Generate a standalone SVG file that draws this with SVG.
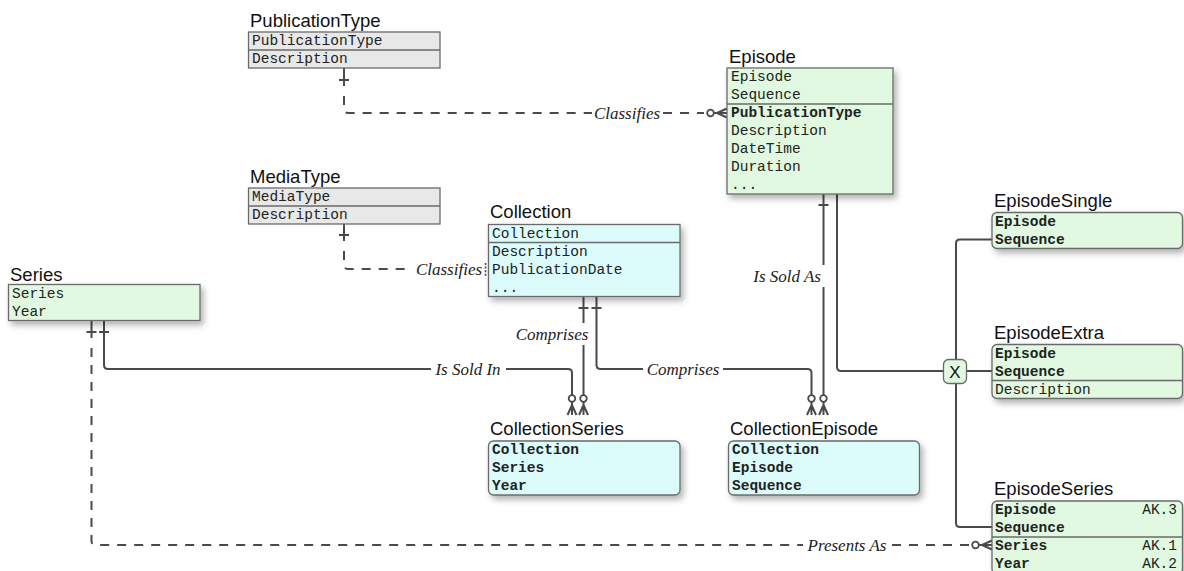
<svg xmlns="http://www.w3.org/2000/svg" width="1184" height="571" viewBox="0 0 1184 571">
<defs>
<style>
.title{font-family:"Liberation Sans",Arial,sans-serif;font-size:18.5px;fill:#111}
.f{font-family:"Liberation Mono","Courier New",monospace;font-size:14.5px;fill:#222}
.b{font-weight:bold}
.ak{text-anchor:end}
.gray{fill:#e8e8e8;stroke:#6a6a6a;stroke-width:1.3}
.green{fill:#e0f9e0;stroke:#6a6a6a;stroke-width:1.3}
.cyan{fill:#dcfcfc;stroke:#6a6a6a;stroke-width:1.3}
.div{stroke:#6a6a6a;stroke-width:1.3}
.ln{fill:none;stroke:#4a4a4a;stroke-width:2}
.dash{stroke-dasharray:9 8}
.lbl{font-family:"Liberation Serif","Times New Roman",serif;font-style:italic;font-size:17px;fill:#222}
.sh{filter:url(#shadow)}
</style>
<filter id="shadow" x="-10%" y="-20%" width="130%" height="160%">
<feDropShadow dx="3" dy="4" stdDeviation="3" flood-color="#000" flood-opacity="0.3"/>
</filter>
<g id="zm">
<circle cx="0" cy="-16.5" r="3.3" fill="#fff" stroke="#4a4a4a" stroke-width="1.8"/>
<path d="M0,-13.2 V0 M0,-10 L-4.5,0 M0,-10 L4.5,0" fill="none" stroke="#4a4a4a" stroke-width="2"/>
</g>
<path id="tick" d="M-5,0 H5" stroke="#4a4a4a" stroke-width="2"/>
</defs>

<g id="connectors">
<!-- PublicationType classifies Episode -->
<path class="ln" d="M344,68 V86"/>
<path class="ln dash" d="M344,96 V109 Q344,113 348,113 H592"/>
<path class="ln dash" d="M663,113 H704"/>
<use href="#tick" x="344" y="80"/>
<use href="#zm" transform="translate(727,113) rotate(-90)"/>
<text class="lbl" x="627" y="118.5" text-anchor="middle">Classifies</text>

<!-- MediaType classifies Collection -->
<path class="ln" d="M344,224 V241"/>
<path class="ln dash" d="M344,251 V265 Q344,269 348,269 H412"/>
<use href="#tick" x="344" y="235"/>
<path d="M485.5,263 V276" stroke="#4a4a4a" stroke-width="1.6" stroke-dasharray="2 1.6"/>
<text class="lbl" x="449" y="274.5" text-anchor="middle">Classifies</text>

<!-- Series is sold in CollectionSeries -->
<path class="ln" d="M104,320 V365 Q104,369 108,369 H431"/>
<path class="ln" d="M506,369 H568 Q572,369 572,373 V398"/>
<use href="#tick" x="104" y="332"/>
<use href="#zm" x="572" y="415"/>
<text class="lbl" x="468" y="374.5" text-anchor="middle">Is Sold In</text>

<!-- Collection comprises CollectionSeries -->
<path class="ln" d="M583.5,296 V323"/>
<path class="ln" d="M583.5,345 V398"/>
<use href="#tick" x="583.5" y="308"/>
<use href="#zm" x="583.5" y="415"/>
<text class="lbl" x="552" y="339.5" text-anchor="middle">Comprises</text>

<!-- Collection comprises CollectionEpisode -->
<path class="ln" d="M596.5,296 V365 Q596.5,369 600.5,369 H643"/>
<path class="ln" d="M723,369 H807.5 Q811.5,369 811.5,373 V398"/>
<use href="#tick" x="596.5" y="308"/>
<use href="#zm" x="811.5" y="415"/>
<text class="lbl" x="683" y="374.5" text-anchor="middle">Comprises</text>

<!-- Episode is sold as CollectionEpisode -->
<path class="ln" d="M823.5,194 V265"/>
<path class="ln" d="M823.5,287 V398"/>
<use href="#tick" x="823.5" y="205"/>
<use href="#zm" x="823.5" y="415"/>
<text class="lbl" x="821" y="282" text-anchor="end">Is Sold As</text>

<!-- Episode subtypes -->
<path class="ln" d="M837,194 V367 Q837,371 841,371 H943.5"/>
<path class="ln" d="M967,371 H992"/>
<path class="ln" d="M956,359.5 V243.5 Q956,239.5 960,239.5 H992"/>
<path class="ln" d="M956,383.5 V523 Q956,527 960,527 H992"/>

<!-- Series presents as EpisodeSeries -->
<path class="ln" d="M91.5,320 V338"/>
<path class="ln dash" d="M91.5,348 V541 Q91.5,545 95.5,545 H803"/>
<path class="ln dash" d="M892,545 H970"/>
<use href="#tick" x="91.5" y="332"/>
<use href="#zm" transform="translate(992,545) rotate(-90)"/>
<text class="lbl" x="847" y="550.5" text-anchor="middle">Presents As</text>
</g>

<g id="PublicationType">
<text class="title" x="250" y="26.5">PublicationType</text>
<rect class="gray" x="248.5" y="32" width="191.5" height="36"/>
<line class="div" x1="248.5" y1="50" x2="440" y2="50"/>
<text class="f" x="252" y="45">PublicationType</text>
<text class="f" x="252" y="63">Description</text>
</g>

<g id="MediaType">
<text class="title" x="250" y="183">MediaType</text>
<rect class="gray" x="248.5" y="188" width="191.5" height="36"/>
<line class="div" x1="248.5" y1="206" x2="440" y2="206"/>
<text class="f" x="252" y="201">MediaType</text>
<text class="f" x="252" y="219">Description</text>
</g>

<g id="Episode">
<text class="title" x="729" y="63">Episode</text>
<rect class="green sh" x="727" y="68" width="166" height="126"/>
<line class="div" x1="727" y1="104" x2="893" y2="104"/>
<text class="f" x="731" y="81">Episode</text>
<text class="f" x="731" y="99">Sequence</text>
<text class="f b" x="731" y="117">PublicationType</text>
<text class="f" x="731" y="135">Description</text>
<text class="f" x="731" y="153">DateTime</text>
<text class="f" x="731" y="171">Duration</text>
<text class="f" x="731" y="189">...</text>
</g>

<g id="Collection">
<text class="title" x="490" y="218">Collection</text>
<rect class="cyan sh" x="488.5" y="224.5" width="191.5" height="72"/>
<line class="div" x1="488.5" y1="242.5" x2="680" y2="242.5"/>
<text class="f" x="492" y="237.5">Collection</text>
<text class="f" x="492" y="255.5">Description</text>
<text class="f" x="492" y="273.5">PublicationDate</text>
<text class="f" x="492" y="291.5">...</text>
</g>

<g id="Series">
<text class="title" x="10" y="281">Series</text>
<rect class="green sh" x="8.5" y="284.5" width="191.5" height="36"/>
<text class="f" x="12" y="297.5">Series</text>
<text class="f" x="12" y="315.5">Year</text>
</g>

<g id="CollectionSeries">
<text class="title" x="490" y="435">CollectionSeries</text>
<rect class="cyan sh" x="488.5" y="441" width="191.5" height="54" rx="5"/>
<text class="f b" x="492" y="454">Collection</text>
<text class="f b" x="492" y="472">Series</text>
<text class="f b" x="492" y="490">Year</text>
</g>

<g id="CollectionEpisode">
<text class="title" x="730" y="435">CollectionEpisode</text>
<rect class="cyan sh" x="728.5" y="441" width="191" height="54" rx="5"/>
<text class="f b" x="732" y="454">Collection</text>
<text class="f b" x="732" y="472">Episode</text>
<text class="f b" x="732" y="490">Sequence</text>
</g>

<g id="X">
<rect class="green" x="943.5" y="359.5" width="23" height="24" rx="5"/>
<text class="title" x="955" y="378" text-anchor="middle" style="font-size:17px">X</text>
</g>

<g id="EpisodeSingle">
<text class="title" x="994" y="207">EpisodeSingle</text>
<rect class="green sh" x="992" y="212.5" width="190.5" height="36" rx="5"/>
<text class="f b" x="995" y="225.5">Episode</text>
<text class="f b" x="995" y="243.5">Sequence</text>
</g>

<g id="EpisodeExtra">
<text class="title" x="994" y="339">EpisodeExtra</text>
<rect class="green sh" x="992" y="344.5" width="190.5" height="54" rx="5"/>
<line class="div" x1="992" y1="380.5" x2="1182.5" y2="380.5"/>
<text class="f b" x="995" y="357.5">Episode</text>
<text class="f b" x="995" y="375.5">Sequence</text>
<text class="f" x="995" y="393.5">Description</text>
</g>

<g id="EpisodeSeries">
<text class="title" x="994" y="495">EpisodeSeries</text>
<rect class="green sh" x="992" y="501" width="190.5" height="73" rx="5"/>
<line class="div" x1="992" y1="537" x2="1182.5" y2="537"/>
<text class="f b" x="995" y="514">Episode</text>
<text class="f b" x="995" y="532">Sequence</text>
<text class="f b" x="995" y="550">Series</text>
<text class="f b" x="995" y="568">Year</text>
<text class="f ak" x="1177" y="514">AK.3</text>
<text class="f ak" x="1177" y="550">AK.1</text>
<text class="f ak" x="1177" y="568">AK.2</text>
</g>
</svg>
